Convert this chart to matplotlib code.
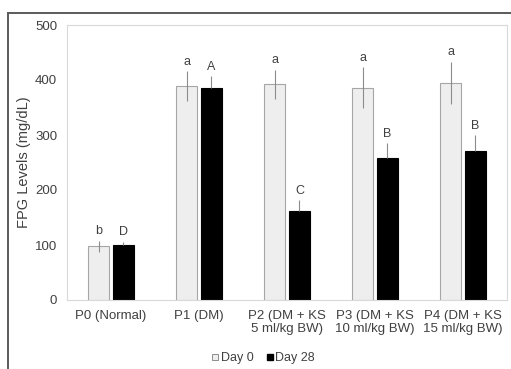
import matplotlib
matplotlib.use('Agg')
import matplotlib.pyplot as plt
from matplotlib.lines import Line2D
import numpy as np

plt.rcParams['font.family'] = ['Liberation Sans', 'DejaVu Sans']

groups = ['P0 (Normal)', 'P1 (DM)', 'P2 (DM + KS\n5 ml/kg BW)',
          'P3 (DM + KS\n10 ml/kg BW)', 'P4 (DM + KS\n15 ml/kg BW)']
day0 = [98, 389, 392, 386, 395]
err0 = [10, 27, 27, 37, 38]
day28 = [100, 386, 161, 258, 271]
err28 = [6, 21, 20, 27, 29]
letters0 = ['b', 'a', 'a', 'a', 'a']
letters28 = ['D', 'A', 'C', 'B', 'B']

txt = '#404040'
fig = plt.figure(figsize=(5.11, 3.69), dpi=100)
ax = fig.add_axes([67/511, 69/369, 440/511, 275/369])

x = np.arange(len(groups))
w = 0.24
off = 0.142
ax.bar(x - off, day0, w, color='#eeeeee', edgecolor='#a6a6a6', linewidth=0.8, label='Day 0', zorder=2)
ax.bar(x + off, day28, w, color='black', edgecolor='black', linewidth=0.8, label='Day 28', zorder=2)
ax.errorbar(x - off, day0, yerr=err0, fmt='none', ecolor='#8c8c8c', elinewidth=0.8, capsize=0, zorder=3)
ax.errorbar(x + off, day28, yerr=[[0]*5, err28], fmt='none', ecolor='#8c8c8c', elinewidth=0.8, capsize=0, zorder=3)

for i in range(len(groups)):
    ax.annotate(letters0[i], (x[i] - off, day0[i] + err0[i]), xytext=(0, 2.5),
                textcoords='offset points', ha='center', va='bottom', fontsize=9, color=txt)
    ax.annotate(letters28[i], (x[i] + off, day28[i] + err28[i]), xytext=(0, 2.5),
                textcoords='offset points', ha='center', va='bottom', fontsize=9, color=txt)

ax.set_xlim(-0.5, 4.5)
ax.set_ylim(0, 500)
ax.set_yticks(range(0, 501, 100))
ax.set_xticks(x)
ax.set_xticklabels(groups, fontsize=9.5, color=txt, linespacing=1.15)
ax.tick_params(axis='y', labelsize=9.5, labelcolor=txt, length=0, pad=7)
ax.tick_params(axis='x', length=0, pad=7)
for s in ax.spines.values():
    s.set_color('#d9d9d9')
    s.set_linewidth(0.8)
ax.set_ylabel('FPG Levels (mg/dL)', fontsize=10.5, color=txt, labelpad=3)

handles = [Line2D([], [], marker='s', linestyle='none', markersize=5,
                  markerfacecolor='#eeeeee', markeredgecolor='#8c8c8c', markeredgewidth=0.7),
           Line2D([], [], marker='s', linestyle='none', markersize=5,
                  markerfacecolor='black', markeredgecolor='black')]
leg = fig.legend(handles, ['Day 0', 'Day 28'], loc='center', bbox_to_anchor=(263/511, 1 - 358/369),
                 ncol=2, frameon=False, fontsize=9, handlelength=0.6, handletextpad=0.15,
                 columnspacing=1.0)
for t in leg.get_texts():
    t.set_color(txt)

# outer frame (top and left edges of the cropped figure)
fig.add_artist(Line2D([8/511, 1], [1 - 13/369, 1 - 13/369], color='#5a5a5a', linewidth=1.4,
                      transform=fig.transFigure))
fig.add_artist(Line2D([8/511, 8/511], [0, 1 - 13/369], color='#5a5a5a', linewidth=1.4,
                      transform=fig.transFigure))

fig.savefig('out.png', dpi=100)
